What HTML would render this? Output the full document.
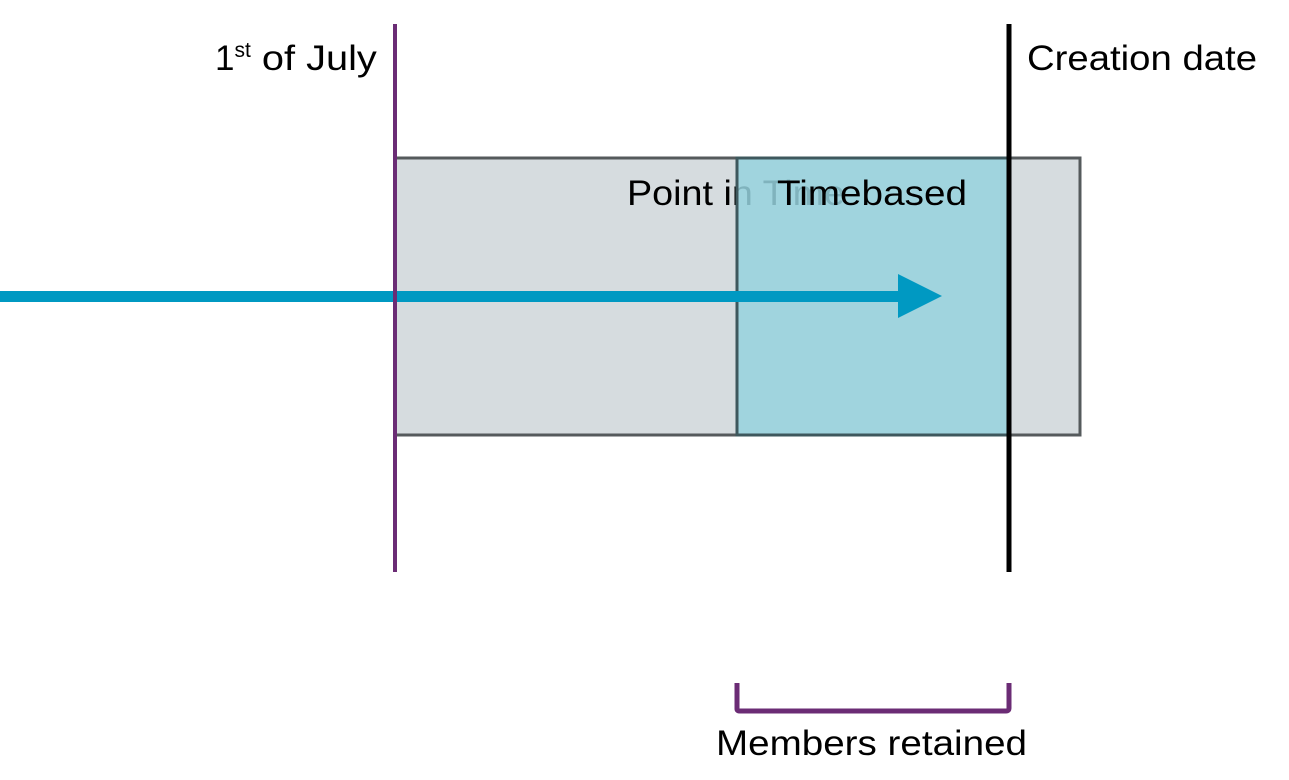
<!DOCTYPE html>
<html><head><style>html,body{margin:0;padding:0;background:#fff}svg{display:block}</style></head>
<body>
<svg width="1289" height="780" viewBox="0 0 1289 780" xmlns="http://www.w3.org/2000/svg" font-family="Liberation Sans, sans-serif">
<rect x="395" y="158" width="685" height="277" fill="#d6dcdf" stroke="#555a5c" stroke-width="3"/>
<text x="627" y="205" font-size="35" fill="#000" textLength="218" lengthAdjust="spacingAndGlyphs">Point in Time</text>
<rect x="737" y="158" width="272" height="277" fill="#97d2de" fill-opacity="0.85" stroke="#3e585d" stroke-width="3"/>
<text x="777" y="205" font-size="35" fill="#000" textLength="190" lengthAdjust="spacingAndGlyphs">Timebased</text>
<rect x="0" y="291" width="902" height="11" fill="#0099c2"/>
<polygon points="898,274 942,296 898,318" fill="#0099c2"/>
<line x1="395" y1="24" x2="395" y2="572" stroke="#6b2c75" stroke-width="4"/>
<line x1="1009" y1="24" x2="1009" y2="572" stroke="#000" stroke-width="5"/>
<text x="215" y="70" font-size="35">1<tspan font-size="21" dy="-13">st</tspan><tspan dy="13" textLength="126" lengthAdjust="spacingAndGlyphs"> of July</tspan></text>
<text x="1027" y="70" font-size="35" textLength="230" lengthAdjust="spacingAndGlyphs">Creation date</text>
<path d="M737,683 V709 Q737,711 740,711 H1006 Q1009,711 1009,708 V683" fill="none" stroke="#6b2c75" stroke-width="5"/>
<text x="716" y="755" font-size="35" textLength="311" lengthAdjust="spacingAndGlyphs">Members retained</text>
</svg>
</body></html>
